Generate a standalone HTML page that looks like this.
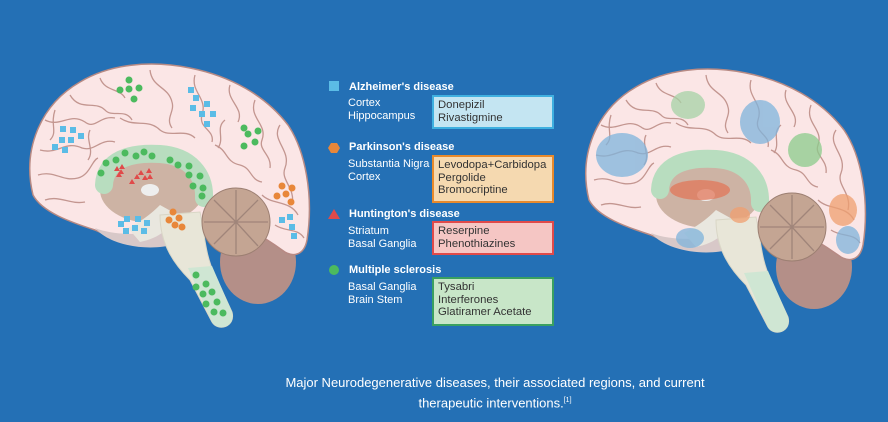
<!DOCTYPE html>
<html><head><meta charset="utf-8"><style>
body{margin:0;width:888px;height:422px;background:#2470b5;overflow:hidden;font-family:"Liberation Sans",sans-serif;position:relative}
.t{position:absolute;color:#fff;font-size:11px;line-height:13px}
.h{font-weight:bold}
.box{position:absolute;left:432px;width:122px;border:2px solid;color:#333;font-size:11.3px;line-height:12.5px;padding:2px 0 0 4px;box-sizing:border-box}
.cap{position:absolute;left:245px;width:500px;text-align:center;top:374px;color:#fff;font-size:13px;line-height:18px}
</style></head><body>
<svg width="888" height="422" style="position:absolute;left:0;top:0">
<defs>
<g id="brain">
<ellipse cx="258" cy="262" rx="38" ry="42" fill="#b48f88"/>
<path d="M33,195 C22,150 40,105 80,82 C110,64 150,60 190,68 C230,76 265,95 288,125 C305,150 314,195 307,240 C304,256 292,258 282,250 C268,240 255,232 240,225 C215,220 200,225 180,232 C150,242 115,240 95,230 C70,222 42,212 33,195Z" fill="#fbe6e6" stroke="#b78a84" stroke-width="1.5"/>
<g fill="none" stroke="#c39690" stroke-width="1.3">
<path d="M45,120 C60,128 70,112 85,122 C95,130 100,115 115,118"/>
<path d="M70,95 C80,112 95,100 105,110 C112,118 125,108 132,120"/>
<path d="M100,78 C105,92 120,88 125,98"/>
<path d="M150,70 C152,88 168,86 172,102 C175,112 165,118 172,128"/>
<path d="M195,75 C190,92 208,98 202,115 C198,128 215,130 212,142"/>
<path d="M230,85 C225,100 245,108 238,122"/>
<path d="M255,100 C248,118 268,124 262,140 C258,150 272,155 270,168"/>
<path d="M280,125 C270,140 292,150 285,168 C280,180 296,188 292,205"/>
<path d="M40,150 C58,155 65,140 82,148 C95,152 100,138 115,142"/>
<path d="M38,175 C55,170 62,182 78,178 C90,175 92,160 98,158"/>
<path d="M45,200 C60,195 70,205 85,202"/>
<path d="M120,118 C135,128 148,118 160,130 C170,138 185,128 195,138"/>
<path d="M215,145 C228,150 225,162 240,165 C252,168 250,180 262,182"/>
<path d="M262,195 C272,205 290,200 298,215 M275,225 C285,232 298,228 304,238"/>
<path d="M55,110 C50,125 58,132 50,140 M90,130 C85,140 95,150 88,160 M225,120 C215,128 225,138 218,148"/>
</g>
<path d="M95,228 C110,246 150,252 175,244 L185,226 C160,234 120,238 95,228Z" fill="#d8c8c8"/>
<ellipse cx="152" cy="190" rx="52" ry="33" fill="#cdb3a4"/>
<path d="M104,185 C105,160 130,152 160,154 C190,156 205,175 204,198" fill="none" stroke="#b8ddbf" stroke-width="18" stroke-linecap="round"/>
<ellipse cx="150" cy="190" rx="9" ry="6" fill="#eee"/>
<path d="M160,205 C150,215 140,222 128,228 L140,242 C160,238 170,228 178,215Z" fill="#e9e7df"/>
<path d="M160,215 C160,245 175,265 190,280 L212,322 C218,332 236,327 232,312 L215,275 C205,255 205,235 200,212Z" fill="#e8e6d8" stroke="#d9d6c6"/>
<path d="M188,268 L212,322 C218,332 236,327 232,312 L212,266Z" fill="#cfe6d3"/>
<circle cx="236" cy="222" r="34" fill="#c4a593" stroke="#9c7f72"/>
<path d="M236,222 L214,200 M236,222 L236,190 M236,222 L258,200 M236,222 L268,222 M236,222 L258,246 M236,222 L214,244 M236,222 L204,222 M236,222 L236,254" stroke="#a0857a" stroke-width="1.3"/>
</g>
</defs>
<use href="#brain"/>
<g transform="translate(556,5)">
<use href="#brain"/>
</g>
<g opacity="0.75">
<ellipse cx="622" cy="155" rx="26" ry="22" fill="#7fb4dc"/>
<ellipse cx="688" cy="105" rx="17" ry="14" fill="#a6d3a6"/>
<ellipse cx="760" cy="122" rx="20" ry="22" fill="#7fb4dc"/>
<ellipse cx="805" cy="150" rx="17" ry="17" fill="#8ccc8c"/>
<ellipse cx="843" cy="210" rx="14" ry="16" fill="#f0a070"/>
<ellipse cx="848" cy="240" rx="12" ry="14" fill="#7fb4dc"/>
<ellipse cx="700" cy="190" rx="30" ry="10" fill="#e2785a"/>
<ellipse cx="690" cy="238" rx="14" ry="10" fill="#7fb4dc"/>
<ellipse cx="740" cy="215" rx="10" ry="8" fill="#f0a070"/>
</g>
<g fill="#4cba5e">
<circle cx="129" cy="80" r="3.5"/><circle cx="120" cy="90" r="3.5"/><circle cx="129" cy="89" r="3.5"/><circle cx="139" cy="88" r="3.5"/><circle cx="134" cy="99" r="3.5"/>
<circle cx="244" cy="128" r="3.5"/><circle cx="258" cy="131" r="3.5"/><circle cx="248" cy="134" r="3.5"/><circle cx="255" cy="142" r="3.5"/><circle cx="244" cy="146" r="3.5"/>
<circle cx="106" cy="163" r="3.5"/><circle cx="101" cy="173" r="3.5"/><circle cx="116" cy="160" r="3.5"/><circle cx="125" cy="153" r="3.5"/><circle cx="136" cy="156" r="3.5"/><circle cx="144" cy="152" r="3.5"/><circle cx="152" cy="156" r="3.5"/><circle cx="170" cy="160" r="3.5"/><circle cx="178" cy="165" r="3.5"/><circle cx="189" cy="166" r="3.5"/><circle cx="189" cy="175" r="3.5"/><circle cx="200" cy="176" r="3.5"/><circle cx="193" cy="186" r="3.5"/><circle cx="203" cy="188" r="3.5"/><circle cx="202" cy="196" r="3.5"/>
<circle cx="196" cy="275" r="3.5"/><circle cx="206" cy="284" r="3.5"/><circle cx="196" cy="287" r="3.5"/><circle cx="212" cy="292" r="3.5"/><circle cx="203" cy="294" r="3.5"/><circle cx="217" cy="302" r="3.5"/><circle cx="206" cy="304" r="3.5"/><circle cx="214" cy="312" r="3.5"/><circle cx="223" cy="313" r="3.5"/>
</g>
<g fill="#5bbce6">
<rect x="188" y="87" width="6" height="6"/><rect x="193" y="95" width="6" height="6"/><rect x="204" y="101" width="6" height="6"/><rect x="190" y="105" width="6" height="6"/><rect x="199" y="111" width="6" height="6"/><rect x="210" y="111" width="6" height="6"/><rect x="204" y="121" width="6" height="6"/>
<rect x="60" y="126" width="6" height="6"/><rect x="70" y="127" width="6" height="6"/><rect x="78" y="133" width="6" height="6"/><rect x="59" y="137" width="6" height="6"/><rect x="68" y="137" width="6" height="6"/><rect x="52" y="144" width="6" height="6"/><rect x="62" y="147" width="6" height="6"/>
<rect x="287" y="214" width="6" height="6"/><rect x="279" y="217" width="6" height="6"/><rect x="289" y="224" width="6" height="6"/><rect x="291" y="233" width="6" height="6"/>
<rect x="124" y="216" width="6" height="6"/><rect x="135" y="216" width="6" height="6"/><rect x="118" y="221" width="6" height="6"/><rect x="144" y="220" width="6" height="6"/><rect x="132" y="225" width="6" height="6"/><rect x="123" y="228" width="6" height="6"/><rect x="141" y="228" width="6" height="6"/>
<rect x="329" y="81" width="10" height="10"/>
</g>
<g fill="#e8873a">
<circle cx="282" cy="186" r="3.5"/><circle cx="292" cy="188" r="3.5"/><circle cx="286" cy="194" r="3.5"/><circle cx="277" cy="196" r="3.5"/><circle cx="291" cy="202" r="3.5"/>
<circle cx="173" cy="212" r="3.5"/><circle cx="179" cy="218" r="3.5"/><circle cx="169" cy="220" r="3.5"/><circle cx="175" cy="225" r="3.5"/><circle cx="182" cy="227" r="3.5"/>
<polygon points="331,143 337,143 340,148 337,153 331,153 328,148"/>
</g>
<g fill="#e04a4a">
<path d="M117,166 l3,5 h-6Z M122,164 l3,5 h-6Z M119,172 l3,5 h-6Z M121,169 l3,5 h-6Z M141,170 l3,5 h-6Z M137,174 l3,5 h-6Z M149,168 l3,5 h-6Z M145,175 l3,5 h-6Z M150,174 l3,5 h-6Z M132,179 l3,5 h-6Z"/>
<polygon points="334,209 340,219 328,219"/>
</g>
<circle cx="334" cy="270" r="5" fill="#4cba5e"/>
</svg>
<div class="t h" style="left:349px;top:81px">Alzheimer's disease</div>
<div class="t" style="left:348px;top:97px">Cortex<br>Hippocampus</div>
<div class="box" style="top:95px;height:34px;background:#c4e5f2;border-color:#3fb0e0">Donepizil<br>Rivastigmine</div>
<div class="t h" style="left:349px;top:141px">Parkinson's disease</div>
<div class="t" style="left:348px;top:158px">Substantia Nigra<br>Cortex</div>
<div class="box" style="top:155px;height:48px;background:#f5d9b0;border-color:#e88a2c">Levodopa+Carbidopa<br>Pergolide<br>Bromocriptine</div>
<div class="t h" style="left:349px;top:208px">Huntington's disease</div>
<div class="t" style="left:348px;top:225px">Striatum<br>Basal Ganglia</div>
<div class="box" style="top:221px;height:34px;background:#f5c6c4;border-color:#e04a4a">Reserpine<br>Phenothiazines</div>
<div class="t h" style="left:349px;top:264px">Multiple sclerosis</div>
<div class="t" style="left:348px;top:281px">Basal Ganglia<br>Brain Stem</div>
<div class="box" style="top:277px;height:49px;background:#c8e6c8;border-color:#3aa060">Tysabri<br>Interferones<br>Glatiramer Acetate</div>
<div class="cap">Major Neurodegenerative diseases, their associated regions, and current<br>therapeutic interventions.<sup style="font-size:7px">[1]</sup></div>
</body></html>
